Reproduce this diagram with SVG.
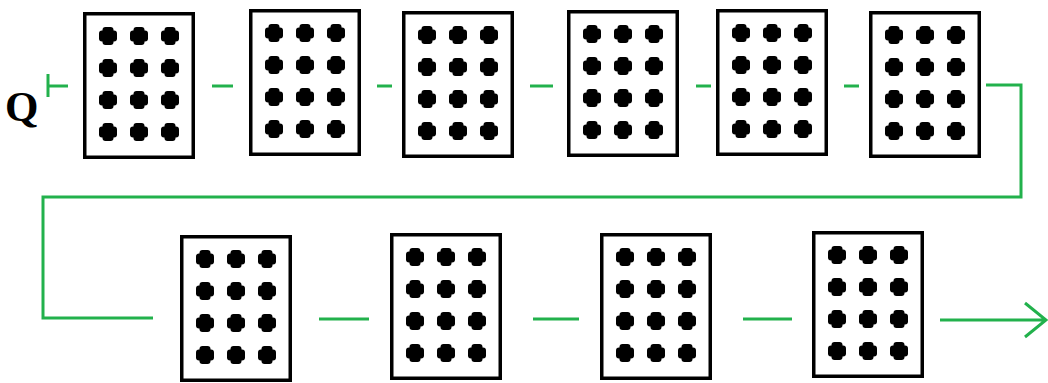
<svg xmlns="http://www.w3.org/2000/svg" xmlns:xlink="http://www.w3.org/1999/xlink" width="1048" height="383" viewBox="0 0 1048 383">
  <style>
    .box { fill: #ffffff; stroke: #000000; stroke-width: 3.5; }
    .wire { fill: none; stroke: #22b14c; stroke-width: 3; }
    .lbl { font-family: "Liberation Serif", "DejaVu Serif", serif; font-weight: bold; font-size: 43px; fill: #000000; }
  </style>
  <defs>
    <g id="dot">
      <rect x="-9" y="-5.5" width="18" height="11" rx="3" fill="#000"/>
      <rect x="-5.5" y="-9" width="11" height="18" rx="3" fill="#000"/>
      <circle r="6.6" fill="#000"/>
    </g>
    <g id="dots">
      <use xlink:href="#dot" x="25" y="24"/><use xlink:href="#dot" x="56" y="24"/><use xlink:href="#dot" x="87" y="24"/>
      <use xlink:href="#dot" x="25" y="56"/><use xlink:href="#dot" x="56" y="56"/><use xlink:href="#dot" x="87" y="56"/>
      <use xlink:href="#dot" x="25" y="88"/><use xlink:href="#dot" x="56" y="88"/><use xlink:href="#dot" x="87" y="88"/>
      <use xlink:href="#dot" x="25" y="120"/><use xlink:href="#dot" x="56" y="120"/><use xlink:href="#dot" x="87" y="120"/>
    </g>
  </defs>
  <rect width="1048" height="383" fill="#ffffff"/>

  <g id="label-Q"><text class="lbl" x="5" y="121">Q</text></g>

  <g id="connectors">
    <path class="wire" d="M48,74 V97 M48,86 H68"/>
    <path class="wire" d="M212,86 H233"/>
    <path class="wire" d="M377,86 H392"/>
    <path class="wire" d="M530,86 H553"/>
    <path class="wire" d="M696,86 H711"/>
    <path class="wire" d="M844,86 H859"/>
    <path class="wire" d="M986,85 H1021 V197 H43 V318 H153"/>
    <path class="wire" d="M319,319 H369"/>
    <path class="wire" d="M533,319 H579"/>
    <path class="wire" d="M743,319 H792"/>
    <path class="wire" d="M940,320 H1046 M1025,303 L1046,320 L1025,337"/>
  </g>

  <g id="node1" transform="translate(83,12)"><rect class="box" x="1.75" y="1.75" width="108.5" height="143.5"/><use xlink:href="#dots"/></g>
  <g id="node2" transform="translate(249,9)"><rect class="box" x="1.75" y="1.75" width="108.5" height="143.5"/><use xlink:href="#dots"/></g>
  <g id="node3" transform="translate(402,11)"><rect class="box" x="1.75" y="1.75" width="108.5" height="143.5"/><use xlink:href="#dots"/></g>
  <g id="node4" transform="translate(567,10)"><rect class="box" x="1.75" y="1.75" width="108.5" height="143.5"/><use xlink:href="#dots"/></g>
  <g id="node5" transform="translate(716,9)"><rect class="box" x="1.75" y="1.75" width="108.5" height="143.5"/><use xlink:href="#dots"/></g>
  <g id="node6" transform="translate(869,11)"><rect class="box" x="1.75" y="1.75" width="108.5" height="143.5"/><use xlink:href="#dots"/></g>
  <g id="node7" transform="translate(180,235)"><rect class="box" x="1.75" y="1.75" width="108.5" height="143.5"/><use xlink:href="#dots"/></g>
  <g id="node8" transform="translate(390,233)"><rect class="box" x="1.75" y="1.75" width="108.5" height="143.5"/><use xlink:href="#dots"/></g>
  <g id="node9" transform="translate(600,233)"><rect class="box" x="1.75" y="1.75" width="108.5" height="143.5"/><use xlink:href="#dots"/></g>
  <g id="node10" transform="translate(812,231)"><rect class="box" x="1.75" y="1.75" width="108.5" height="143.5"/><use xlink:href="#dots"/></g>
</svg>
